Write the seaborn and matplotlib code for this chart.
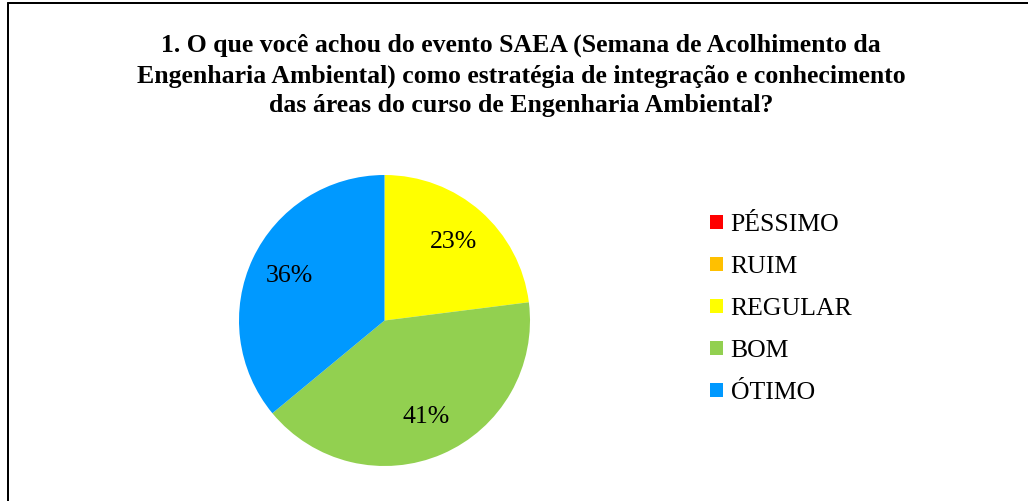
import matplotlib
matplotlib.use("Agg")
import matplotlib.pyplot as plt
from matplotlib.lines import Line2D
import seaborn as sns

categories = ["PÉSSIMO", "RUIM", "REGULAR", "BOM", "ÓTIMO"]
values = [0, 0, 23, 41, 36]
colors = ["#FF0000", "#FFC000", "#FFFF00", "#92D050", "#0099FF"]
title = ("1. O que você achou do evento SAEA (Semana de Acolhimento da\n"
         "Engenharia Ambiental) como estratégia de integração e conhecimento\n"
         "das áreas do curso de Engenharia Ambiental?")

sns.set_theme(style="white")
plt.rcParams["font.family"] = ["Liberation Serif", "DejaVu Serif"]
plt.rcParams["text.color"] = "black"

W, H = 1028, 501
fig = plt.figure(figsize=(W / 100, H / 100), dpi=100)
fig.patch.set_facecolor("white")

cx, cy, r = 384.5, 320.5, 145.5
ax = fig.add_axes([(cx - r) / W, (H - cy - r) / H, 2 * r / W, 2 * r / H])

palette = sns.color_palette(colors)


def fmt(p):
    return f"{p:.0f}%" if p > 0.5 else ""


wedges, texts, autotexts = ax.pie(
    values, colors=palette, startangle=90, counterclock=False,
    autopct=fmt, pctdistance=0.72, radius=1.0,
    wedgeprops=dict(linewidth=0, edgecolor="none"),
    textprops=dict(fontsize=18.5, color="black"),
)
ax.set_xlim(-1, 1)
ax.set_ylim(-1, 1)
ax.set_aspect("auto")
ax.axis("off")

fig.text(521 / W, 1 - 34 / H, title, ha="center", va="top", color="black",
         fontsize=18.5, fontweight="bold", linespacing=1.37)

leg = ax.legend(wedges, categories, loc="upper left",
                bbox_to_anchor=(710 / W, 1 - 214 / H), bbox_transform=fig.transFigure,
                frameon=False, fontsize=18.5, handlelength=0.5, handleheight=0.5,
                handletextpad=0.3, labelspacing=0.78, borderpad=0, borderaxespad=0)
for t in leg.get_texts():
    t.set_color("black")

lw = 2.0 * 72 / 100
fig.add_artist(Line2D([8 / W, 1.0], [1 - 3 / H, 1 - 3 / H], color="black",
                      linewidth=lw, transform=fig.transFigure))
fig.add_artist(Line2D([8 / W, 8 / W], [0, 1 - 3 / H], color="black",
                      linewidth=lw, transform=fig.transFigure))

fig.savefig("out.png", dpi=100, facecolor="white")
